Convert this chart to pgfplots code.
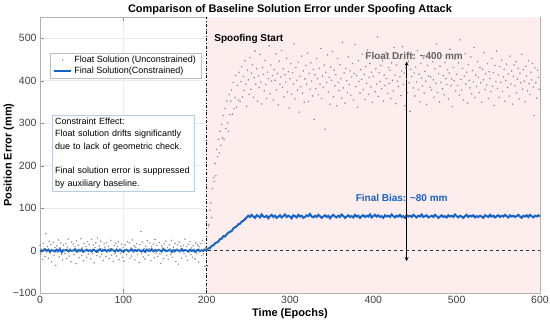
\documentclass[border=0pt]{standalone}
\usepackage{fontspec}
\setmainfont{Liberation Sans}
\usepackage{pgfplots}
\pgfplotsset{compat=1.18}
\usepackage{pgfplotstable}
\definecolor{lineblue}{RGB}{20,100,200}
\definecolor{pinkbg}{RGB}{253,237,237}
\definecolor{dotgray}{RGB}{140,140,140}
\definecolor{boxblue}{RGB}{185,205,230}
\definecolor{drifttext}{RGB}{100,100,100}

\pgfplotstableread{
y
12
-8
3
-21
17
5
-14
40
-3
9
-18
22
-6
14
-27
2
19
-11
7
-35
11
-4
25
-15
6
18
-9
-22
13
1
-7
16
-19
8
27
-13
4
-26
20
-2
15
-10
9
-31
23
-5
12
-17
3
28
-12
6
-24
17
-1
10
-16
21
-8
14
2
-20
26
-6
13
-29
7
18
-12
30
-4
11
-15
22
-9
3
-23
16
8
-14
19
-3
10
-19
5
24
-11
1
-26
12
-7
17
-13
9
20
-21
4
-6
15
-16
7
-25
13
2
-10
21
-4
18
-18
6
-13
25
-2
11
-22
8
16
-9
3
-28
14
45
-7
20
-15
5
-20
10
-3
23
-11
4
18
-24
9
-1
15
-17
26
-6
12
-14
2
19
-8
-30
11
6
-19
16
-3
22
-12
7
-21
13
1
-9
24
-16
8
-5
17
-26
3
14
-32
20
-2
10
-18
5
12
-7
27
-13
9
-23
15
-4
21
-10
6
-16
11
3
-20
18
-6
13
-27
9
-2
16
-12
24
-8
4
-37
7
5
-36
58
62
95
112
78
146
172
163
205
176
238
221
262
230
281
248
297
265
318
262
335
287
352
301
281
367
320
352
378
321
396
334
360
412
338
389
355
420
351
398
433
362
410
377
447
392
340
425
402
368
455
380
418
438
361
407
470
392
428
352
411
384
462
397
345
431
415
376
448
391
358
420
405
482
369
437
399
412
355
426
401
463
378
417
343
446
392
409
471
385
428
362
414
397
453
374
421
336
405
440
368
419
392
487
357
431
401
378
443
326
410
386
458
371
423
349
404
436
392
465
351
417
380
442
399
364
427
309
414
381
452
405
367
429
392
476
358
411
384
437
286
420
396
461
373
408
345
432
401
469
362
425
388
414
341
452
396
377
438
405
359
491
383
418
347
429
400
372
456
391
423
366
409
440
354
417
485
386
412
337
447
398
371
426
403
462
379
415
356
433
394
472
368
408
441
385
420
349
410
457
374
428
392
503
363
419
398
436
381
447
352
413
389
466
405
370
431
394
425
358
442
401
376
478
413
346
437
399
386
452
409
365
423
480
391
418
341
430
404
372
446
395
328
427
410
459
383
418
364
432
397
471
379
415
350
441
406
388
453
371
422
399
344
436
411
467
385
409
378
445
402
361
428
394
486
372
417
350
434
396
459
381
412
367
443
405
391
426
357
418
474
388
404
339
431
400
451
376
415
389
442
366
496
403
378
429
354
411
463
392
420
347
438
401
383
456
369
424
397
478
360
413
386
445
408
372
431
395
349
427
402
466
379
416
390
440
358
421
405
374
452
387
419
342
436
398
470
382
414
361
433
396
448
375
409
427
352
401
439
384
416
364
458
392
423
345
410
437
388
445
371
404
429
357
418
395
462
380
426
399
350
434
411
376
447
393
367
420
402
441
385
318
430
395
359
425
408
380
}\floatdata

\pgfplotstableread{
y
1
-2
0
3
-1
2
-3
1
0
-2
2
-1
3
-4
1
0
2
-2
1
-1
0
3
-2
1
-1
2
-3
0
2
-1
1
-2
2
0
-3
1
3
-1
0
2
-2
1
-1
3
0
-2
2
-1
1
0
-3
1
2
-1
0
3
-2
1
-1
2
0
-2
1
-3
2
0
-1
3
-2
1
-1
2
0
-2
3
1
-1
0
2
-3
1
-1
2
0
-2
3
-1
1
0
-2
2
-1
1
-3
0
2
-2
1
-1
2
1
5
6
11
12
17
19
21
27
28
34
33
38
42
44
46
52
55
57
62
63
68
70
74
78
82
79
84
80
77
83
81
78
85
80
79
82
76
81
84
79
82
77
80
83
78
81
85
79
82
80
76
83
81
78
84
80
82
77
79
83
81
86
80
78
82
79
84
81
77
80
83
79
82
76
81
84
80
78
82
79
85
81
77
80
83
79
81
78
84
80
82
77
81
83
79
82
80
85
78
81
84
80
83
79
81
77
83
80
82
79
85
81
78
82
80
84
79
81
77
83
80
82
79
84
81
78
82
80
85
79
81
83
78
80
82
79
84
81
77
80
83
79
81
78
83
80
82
79
85
81
78
82
80
77
81
84
79
82
80
83
78
81
79
82
80
77
83
81
79
84
80
82
78
81
83
79
82
80
84
81
78
83
80
82
79
81
84
80
77
82
80
83
79
84
81
78
82
80
83
80
}\finaldata

\begin{document}
\begin{tikzpicture}
\begin{axis}[
  scale only axis,
  width=500pt, height=276pt,
  xmin=0, xmax=600, ymin=-100, ymax=550,
  xtick={0,100,...,600},
  ytick={-100,0,100,200,300,400,500},
  yticklabels={−100,0,100,200,300,400,500},
  grid=major,
  grid style={black!8, line width=0.4pt},
  tick align=inside,
  axis line style={black!30},
  tick style={black!45},
  ticklabel style={font=\fontsize{10.5}{12}\selectfont, text=black!75},
  /pgf/number format/assume math mode=true,
  title={Comparison of Baseline Solution Error under Spoofing Attack},
  title style={font=\bfseries\fontsize{11}{13}\selectfont, yshift=-7pt},
  xlabel={Time (Epochs)},
  ylabel={Position Error (mm)},
  label style={font=\bfseries\fontsize{11}{13}\selectfont},
  xlabel style={yshift=2pt},
  ylabel style={yshift=-8pt},
  legend style={at={(0.02,0.87)}, anchor=north west, draw=black!25, fill=white,
    font=\fontsize{9}{10.5}\selectfont, row sep=-1pt, inner ysep=1pt},
  legend cell align=left,
  clip=true,
]
\fill[pinkbg] (axis cs:200,-100) rectangle (axis cs:600,550);
\draw[black, dash dot, line width=0.7pt] (axis cs:200,-100) -- (axis cs:200,550);
\draw[black!80, dashed, line width=0.5pt] (axis cs:0,0) -- (axis cs:600,0);

\addplot[only marks, mark=*, mark size=0.5pt, color=dotgray] table[x expr=\coordindex, y=y] {\floatdata};
\addlegendentry{Float Solution (Unconstrained)}
\addplot[lineblue, line width=2pt, mark=none] table[x expr=\coordindex*2, y=y] {\finaldata};
\addlegendentry{Final Solution(Constrained)}

\draw[<->, >=stealth, black, line width=0.8pt] (axis cs:440,-25) -- (axis cs:440,445);
\node[anchor=west, inner sep=0pt, font=\bfseries\fontsize{10}{12}\selectfont] at (axis cs:209,499) {Spoofing Start};
\node[inner sep=0pt, text=drifttext, font=\bfseries\fontsize{10}{12}\selectfont] at (axis cs:449,458) {Float Drift: \textasciitilde400 mm};
\node[inner sep=0pt, text=lineblue, font=\bfseries\fontsize{10}{12}\selectfont] at (axis cs:434,125) {Final Bias: \textasciitilde80 mm};
\node[draw=boxblue, fill=white, anchor=north west, align=left, text width=136pt, inner sep=3pt,
  font=\fontsize{9}{12.3}\selectfont] at (rel axis cs:0.024,0.645)
  {Constraint Effect:\\Float solution drifts significantly\\due to lack of geometric check.\\[12.3pt]Final solution error is suppressed\\by auxiliary baseline.};
\end{axis}
\pgfresetboundingbox
\path[use as bounding box] (-40pt,-33pt) rectangle (510pt,293pt);
\end{tikzpicture}
\end{document}
